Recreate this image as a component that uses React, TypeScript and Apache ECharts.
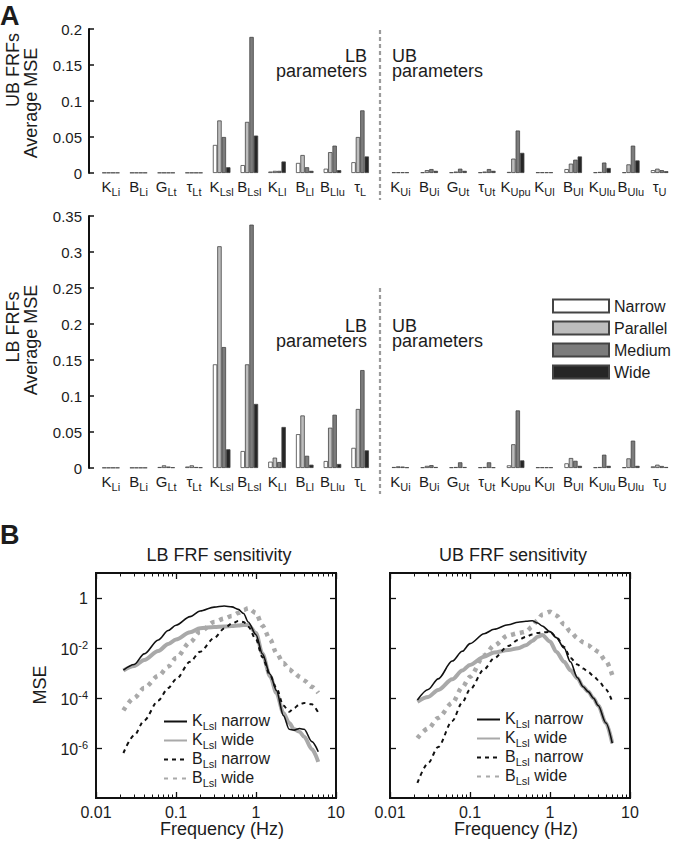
import React, { useEffect, useRef } from 'react';
import * as echarts from 'echarts';

const FONT = '"Liberation Sans", Arial, Helvetica, sans-serif';
const INK = '#1c1c1c';

// ---------- Panel A data ----------
const lbParameters = ['K_Li', 'B_Li', 'G_Lt', 'τ_Lt', 'K_Lsl', 'B_Lsl', 'K_Ll', 'B_Ll', 'B_Llu', 'τ_L'];
const ubParameters = ['K_Ui', 'B_Ui', 'G_Ut', 'τ_Ut', 'K_Upu', 'K_Ul', 'B_Ul', 'K_Ulu', 'B_Ulu', 'τ_U'];
const conditions = ['Narrow', 'Parallel', 'Medium', 'Wide'];
const yTicksUbFrf = [0, 0.05, 0.1, 0.15, 0.2];
const yTicksLbFrf = [0, 0.05, 0.1, 0.15, 0.2, 0.25, 0.3, 0.35];

// UB FRFs, average MSE — LB parameters
const ubFrfLbNarrow = [0.0005, 0.0005, 0.0005, 0.0005, 0.039, 0.011, 0.002, 0.014, 0.006, 0.015];
const ubFrfLbParallel = [0.0005, 0.0005, 0.0005, 0.0005, 0.073, 0.071, 0.003, 0.025, 0.029, 0.05];
const ubFrfLbMedium = [0.0005, 0.0005, 0.0005, 0.0005, 0.05, 0.189, 0.003, 0.008, 0.038, 0.087];
const ubFrfLbWide = [0.0005, 0.0005, 0.0005, 0.0005, 0.008, 0.052, 0.016, 0.003, 0.004, 0.023];
// UB FRFs — UB parameters
const ubFrfUbNarrow = [0.001, 0.001, 0.001, 0.001, 0.0015, 0.001, 0.0055, 0.001, 0.001, 0.004];
const ubFrfUbParallel = [0.001, 0.004, 0.002, 0.002, 0.02, 0.001, 0.013, 0.0015, 0.012, 0.006];
const ubFrfUbMedium = [0.001, 0.0055, 0.006, 0.0055, 0.059, 0.001, 0.0185, 0.0145, 0.038, 0.004];
const ubFrfUbWide = [0.001, 0.003, 0.003, 0.003, 0.028, 0.001, 0.023, 0.007, 0.0175, 0.0025];

// LB FRFs — LB parameters
const lbFrfLbNarrow = [0.0005, 0.0005, 0.0014, 0.002, 0.144, 0.0236, 0.0088, 0.047, 0.0097, 0.028];
const lbFrfLbParallel = [0.0005, 0.0005, 0.0037, 0.0037, 0.308, 0.144, 0.0144, 0.073, 0.056, 0.082];
const lbFrfLbMedium = [0.0005, 0.0005, 0.002, 0.0014, 0.168, 0.338, 0.0083, 0.017, 0.074, 0.136];
const lbFrfLbWide = [0.0005, 0.0005, 0.001, 0.001, 0.026, 0.089, 0.057, 0.0046, 0.0056, 0.0245];
// LB FRFs — UB parameters
const lbFrfUbNarrow = [0.0014, 0.001, 0.001, 0.001, 0.0037, 0.001, 0.0065, 0.001, 0.001, 0.0023];
const lbFrfUbParallel = [0.0023, 0.003, 0.0014, 0.0014, 0.033, 0.001, 0.0139, 0.0014, 0.0134, 0.0046];
const lbFrfUbMedium = [0.002, 0.004, 0.0079, 0.0079, 0.08, 0.001, 0.01, 0.0185, 0.038, 0.0028];
const lbFrfUbWide = [0.001, 0.0014, 0.0014, 0.001, 0.0106, 0.001, 0.003, 0.003, 0.003, 0.0014];

// ---------- Panel B data ----------
const freqHz = [0.022, 0.03, 0.04, 0.06, 0.08, 0.1, 0.15, 0.2, 0.3, 0.4, 0.5, 0.6, 0.7, 0.8, 1, 1.2, 1.5, 1.8, 2.2, 2.6, 3, 3.5, 4, 5, 6];
const curveNames = ['K_Lsl narrow', 'K_Lsl wide', 'B_Lsl narrow', 'B_Lsl wide'];

const lbSensKNarrow = [1.3e-3, 2.2e-3, 5.8e-3, 2.1e-2, 5.0e-2, 8.1e-2, 0.18, 0.3, 0.43, 0.48, 0.44, 0.35, 0.24, 0.11, 3.4e-2, 5.9e-3, 8.9e-4, 2.0e-4, 2.0e-5, 5.6e-6, 5.2e-6, 6.0e-6, 5.6e-6, 1.8e-6, 7.1e-7];
const lbSensKWide = [1.26e-3, 1.9e-3, 3.3e-3, 7.6e-3, 1.45e-2, 2.2e-2, 4.3e-2, 6.2e-2, 6.9e-2, 7.2e-2, 7.6e-2, 7.9e-2, 8.3e-2, 8.3e-2, 4.0e-2, 6.0e-3, 7.4e-4, 1.6e-4, 2.5e-5, 1.0e-5, 5.6e-6, 4.5e-6, 2.8e-6, 8.9e-7, 2.8e-7];
const lbSensBNarrow = [6.3e-7, 3.2e-6, 1.26e-5, 7.9e-5, 2.5e-4, 5.6e-4, 2.8e-3, 7.1e-3, 2.5e-2, 6.0e-2, 9.5e-2, 0.12, 0.11, 7.1e-2, 2.2e-2, 4.4e-3, 8.1e-4, 2.5e-4, 5.0e-5, 2.8e-5, 4.0e-5, 5.6e-5, 6.3e-5, 5.6e-5, 2.6e-5];
const lbSensBWide = [3.2e-5, 1.0e-4, 2.5e-4, 7.6e-4, 1.8e-3, 4.0e-3, 1.7e-2, 4.5e-2, 0.11, 0.15, 0.19, 0.25, 0.33, 0.39, 0.25, 7.9e-2, 2.2e-2, 6.3e-3, 2.5e-3, 1.4e-3, 1.0e-3, 7.1e-4, 5.0e-4, 2.8e-4, 1.6e-4];

const ubSensKNarrow = [8.3e-5, 2.2e-4, 5.8e-4, 3.0e-3, 7.4e-3, 1.5e-2, 3.7e-2, 5.6e-2, 8.5e-2, 0.107, 0.117, 0.123, 0.1, 7.6e-2, 4.5e-2, 2.6e-2, 1.0e-2, 2.8e-3, 6.5e-4, 2.8e-4, 1.8e-4, 9.8e-5, 5.0e-5, 1.0e-5, 1.55e-6];
const ubSensKWide = [7.1e-5, 1.1e-4, 2.1e-4, 5.6e-4, 1.26e-3, 2.1e-3, 4.5e-3, 6.6e-3, 8.3e-3, 9.8e-3, 1.3e-2, 1.9e-2, 2.8e-2, 3.3e-2, 1.8e-2, 7.1e-3, 2.8e-3, 1.3e-3, 6.2e-4, 2.8e-4, 1.8e-4, 9.8e-5, 5.0e-5, 1.0e-5, 1.55e-6];
const ubSensBNarrow = [4.0e-8, 2.5e-7, 1.1e-6, 1.2e-5, 6.6e-5, 2.2e-4, 1.4e-3, 3.9e-3, 1.2e-2, 2.1e-2, 2.8e-2, 3.5e-2, 4.0e-2, 4.2e-2, 4.4e-2, 2.8e-2, 1.1e-2, 4.0e-3, 2.2e-3, 1.5e-3, 1.1e-3, 7.6e-4, 5.2e-4, 2.2e-4, 7.1e-5];
const ubSensBWide = [2.5e-6, 6.0e-6, 1.6e-5, 6.3e-5, 2.7e-4, 7.1e-4, 5.0e-3, 1.26e-2, 3.2e-2, 3.9e-2, 4.5e-2, 7.1e-2, 0.13, 0.22, 0.28, 0.2, 8.9e-2, 4.5e-2, 2.5e-2, 1.7e-2, 1.3e-2, 9.1e-3, 7.1e-3, 3.0e-3, 8.3e-4];

const freqMajorTicks = [0.01, 0.1, 1, 10];
const freqMinorTicks = [0.02, 0.03, 0.04, 0.05, 0.06, 0.07, 0.08, 0.09, 0.2, 0.3, 0.4, 0.5, 0.6, 0.7, 0.8, 0.9, 2, 3, 4, 5, 6, 7, 8, 9];
const mseTicks = [1e-6, 1e-4, 1e-2, 1];

// ---------- styling helpers ----------
const barFill = ['#ffffff', '#bdbdbd', '#7c7c7c', '#262626'];
const subRich = {
  m: { fontSize: 15, fontFamily: FONT, color: INK, verticalAlign: 'top' },
  s: { fontSize: 11, fontFamily: FONT, color: INK, verticalAlign: 'top', padding: [7, 0, 0, 0] },
};
const legendRich = {
  m: { fontSize: 16, fontFamily: FONT, color: INK, verticalAlign: 'top' },
  s: { fontSize: 11, fontFamily: FONT, color: INK, verticalAlign: 'top', padding: [8, 0, 0, 0] },
};
const supRich = {
  b: { fontSize: 16, fontFamily: FONT, color: INK, verticalAlign: 'bottom' },
  p: { fontSize: 11, fontFamily: FONT, color: INK, verticalAlign: 'bottom', padding: [0, 0, 7, 0] },
};
const subLabel = (v: string) => {
  const [m, s] = v.split('_');
  return `{m|${m}}{s|${s}}`;
};
const curveLabel = (name: string) => {
  const [sym, cond] = name.split(' ');
  const [m, s] = sym.split('_');
  return `{m|${m}}{s|${s}}{m| ${cond}}`;
};

function categoryAxis(gridIndex: number, data: string[]) {
  return {
    type: 'category', gridIndex, data,
    axisLine: { show: false }, axisTick: { show: false }, splitLine: { show: false },
    axisLabel: { interval: 0, margin: 6, formatter: subLabel, rich: subRich, color: INK, fontFamily: FONT },
  };
}
function barValueAxis(gridIndex: number, ticks: number[], visible: boolean) {
  return {
    type: 'value', gridIndex, show: visible, min: ticks[0], max: ticks[ticks.length - 1], interval: 0.05, offset: 8,
    axisLine: { show: true, onZero: false, lineStyle: { color: '#111', width: 2 } },
    axisTick: { show: true, inside: true, length: 5, lineStyle: { color: '#111', width: 1.5 } },
    axisLabel: { fontSize: 15, color: INK, fontFamily: FONT, margin: 7, formatter: (v: number) => (v === 0 ? '0' : String(Number(v.toFixed(2)))) },
    splitLine: { show: false },
  };
}
function freqAxis(gridIndex: number, position: string, labels: boolean) {
  return {
    type: 'log', logBase: 10, gridIndex, position, min: freqMajorTicks[0], max: freqMajorTicks[freqMajorTicks.length - 1],
    axisLine: { show: true, onZero: false, lineStyle: { color: '#111', width: 1.8 } },
    axisTick: { show: true, inside: true, length: 6, lineStyle: { color: '#111', width: 1.3 } },
    axisLabel: { show: labels, fontSize: 16, color: INK, fontFamily: FONT, margin: 6, formatter: (v: number) => String(Number(v.toPrecision(2))) },
    splitLine: { show: false }, minorTick: { show: false },
  };
}
function freqMinorAxis(gridIndex: number, position: string) {
  return {
    type: 'value', gridIndex, position, min: Math.log10(freqMajorTicks[0]), max: Math.log10(freqMajorTicks[freqMajorTicks.length - 1]),
    axisLine: { show: false, onZero: false }, axisLabel: { show: false }, splitLine: { show: false },
    axisTick: { show: true, inside: true, length: 3.5, customValues: freqMinorTicks.map((t) => Math.log10(t)), lineStyle: { color: '#111', width: 1 } },
  };
}
function mseAxis(gridIndex: number, position: string, labels: boolean) {
  return {
    type: 'log', logBase: 10, gridIndex, position, min: 1e-8, max: 10,
    axisLine: { show: true, onZero: false, lineStyle: { color: '#111', width: 1.8 } },
    axisTick: { show: true, inside: true, length: 6, customValues: mseTicks, lineStyle: { color: '#111', width: 1.3 } },
    axisLabel: {
      show: labels, customValues: mseTicks, margin: 8, rich: supRich,
      formatter: (v: number) => {
        const e = Math.round(Math.log10(v));
        return e === 0 ? '{b|1}' : `{b|10}{p|${e}}`;
      },
    },
    splitLine: { show: false },
  };
}
function barSeries(axisIndex: number, values: number[][]) {
  return values.map((data, i) => ({
    type: 'bar', name: conditions[i], data, xAxisIndex: axisIndex, yAxisIndex: axisIndex,
    barWidth: 4.4, barGap: '0%',
    itemStyle: { color: barFill[i], borderColor: '#444', borderWidth: 0.8 },
    emphasis: { disabled: true },
  }));
}
function curveSeries(xAxisIndex: number, yAxisIndex: number, kn: number[], kw: number[], bn: number[], bw: number[]) {
  const mk = (name: string, vals: number[], color: string, width: number, type: any) => ({
    type: 'line', name, xAxisIndex, yAxisIndex, data: freqHz.map((f, i) => [f, vals[i]]),
    symbol: 'none', showSymbol: false, smooth: 0.3, smoothMonotone: 'x',
    lineStyle: { color, width, type, cap: 'butt' }, itemStyle: { color },
    emphasis: { disabled: true },
  });
  return [
    mk(curveNames[3], bw, '#a9a9a9', 4.5, [4, 5]),
    mk(curveNames[1], kw, '#a9a9a9', 4, 'solid'),
    mk(curveNames[2], bn, '#111', 2, [4, 4]),
    mk(curveNames[0], kn, '#111', 1.6, 'solid'),
  ];
}
function txt(text: string, x: number, y: number, opts: any = {}) {
  return {
    type: 'text', x, y, rotation: opts.rotation || 0, silent: true,
    style: {
      text, fontSize: opts.fontSize || 18, fontFamily: FONT, fontWeight: opts.fontWeight || 'normal', fill: INK,
      align: opts.align || 'center', verticalAlign: 'middle',
    },
  };
}
const dashStyle = { stroke: '#9b9b9b', lineWidth: 2.2, lineDash: [4, 3] };

function buildOption() {
  const grids = [
    { left: 97, top: 29, width: 277, height: 144, show: false },
    { left: 386, top: 29, width: 288, height: 144, show: false },
    { left: 97, top: 216, width: 277, height: 252, show: false },
    { left: 386, top: 216, width: 288, height: 252, show: false },
    { left: 96, top: 573, width: 240, height: 225, show: true },
    { left: 390, top: 573, width: 240, height: 225, show: true },
  ].map((g) => ({ ...g, containLabel: false, outerBoundsMode: 'none', borderColor: '#111', borderWidth: 1.8, backgroundColor: 'transparent' }));

  const curveLegend = (left: number, top: number) => ({
    data: curveNames, orient: 'vertical', left, top, padding: 0, itemWidth: 23, itemHeight: 12, itemGap: 0,
    selectedMode: false, formatter: curveLabel,
    itemStyle: { opacity: 0 },
    textStyle: { color: INK, fontFamily: FONT, fontSize: 16, rich: legendRich },
  });

  return {
    animation: false,
    backgroundColor: '#ffffff',
    textStyle: { fontFamily: FONT },
    grid: grids,
    legend: [
      {
        data: conditions, orient: 'vertical', left: 552, top: 298, padding: 0, itemWidth: 56, itemHeight: 13, itemGap: 6,
        icon: 'rect', selectedMode: false,
        textStyle: { fontSize: 16, color: INK, fontFamily: FONT, lineHeight: 14 },
      },
      curveLegend(163, 712),
      curveLegend(476, 710),
    ],
    xAxis: [
      categoryAxis(0, lbParameters), categoryAxis(1, ubParameters),
      categoryAxis(2, lbParameters), categoryAxis(3, ubParameters),
      freqAxis(4, 'bottom', true), freqMinorAxis(4, 'bottom'), freqAxis(4, 'top', false), freqMinorAxis(4, 'top'),
      freqAxis(5, 'bottom', true), freqMinorAxis(5, 'bottom'), freqAxis(5, 'top', false), freqMinorAxis(5, 'top'),
    ],
    yAxis: [
      barValueAxis(0, yTicksUbFrf, true), barValueAxis(1, yTicksUbFrf, false),
      barValueAxis(2, yTicksLbFrf, true), barValueAxis(3, yTicksLbFrf, false),
      mseAxis(4, 'left', true), mseAxis(4, 'right', false), mseAxis(5, 'left', false), mseAxis(5, 'right', false),
    ],
    series: [
      ...barSeries(0, [ubFrfLbNarrow, ubFrfLbParallel, ubFrfLbMedium, ubFrfLbWide]),
      ...barSeries(1, [ubFrfUbNarrow, ubFrfUbParallel, ubFrfUbMedium, ubFrfUbWide]),
      ...barSeries(2, [lbFrfLbNarrow, lbFrfLbParallel, lbFrfLbMedium, lbFrfLbWide]),
      ...barSeries(3, [lbFrfUbNarrow, lbFrfUbParallel, lbFrfUbMedium, lbFrfUbWide]),
      ...curveSeries(4, 4, lbSensKNarrow, lbSensKWide, lbSensBNarrow, lbSensBWide),
      ...curveSeries(8, 6, ubSensKNarrow, ubSensKWide, ubSensBNarrow, ubSensBWide),
    ],
    graphic: {
      elements: [
        txt('A', 0, 16, { fontSize: 27, fontWeight: 'bold', align: 'left' }),
        txt('B', 0, 535, { fontSize: 27, fontWeight: 'bold', align: 'left' }),
        { type: 'line', silent: true, shape: { x1: 380, y1: 30, x2: 380, y2: 200 }, style: dashStyle },
        { type: 'line', silent: true, shape: { x1: 380, y1: 288, x2: 380, y2: 494 }, style: dashStyle },
        txt('LB', 367, 56, { align: 'right' }),
        txt('parameters', 367, 71, { align: 'right' }),
        txt('UB', 392, 56, { align: 'left' }),
        txt('parameters', 392, 71, { align: 'left' }),
        txt('LB', 367, 326, { align: 'right' }),
        txt('parameters', 367, 341, { align: 'right' }),
        txt('UB', 392, 326, { align: 'left' }),
        txt('parameters', 392, 341, { align: 'left' }),
        txt('UB FRFs', 13, 70, { rotation: Math.PI / 2 }),
        txt('Average MSE', 31, 103, { rotation: Math.PI / 2 }),
        txt('LB FRFs', 13, 327, { rotation: Math.PI / 2 }),
        txt('Average MSE', 31, 340, { rotation: Math.PI / 2 }),
        txt('LB FRF sensitivity', 219, 555),
        txt('UB FRF sensitivity', 513, 555),
        txt('MSE', 40, 685, { rotation: Math.PI / 2 }),
        txt('Frequency (Hz)', 222, 829),
        txt('Frequency (Hz)', 516, 829),
      ],
    },
  };
}

export default function App() {
  const ref = useRef<HTMLDivElement>(null);
  useEffect(() => {
    const chart = echarts.init(ref.current!, null, { renderer: 'svg' });
    chart.setOption(buildOption() as any);
    return () => chart.dispose();
  }, []);
  return <div ref={ref} style={{ position: 'absolute', left: 0, top: 0, width: 674, height: 842, background: '#fff' }} />;
}
